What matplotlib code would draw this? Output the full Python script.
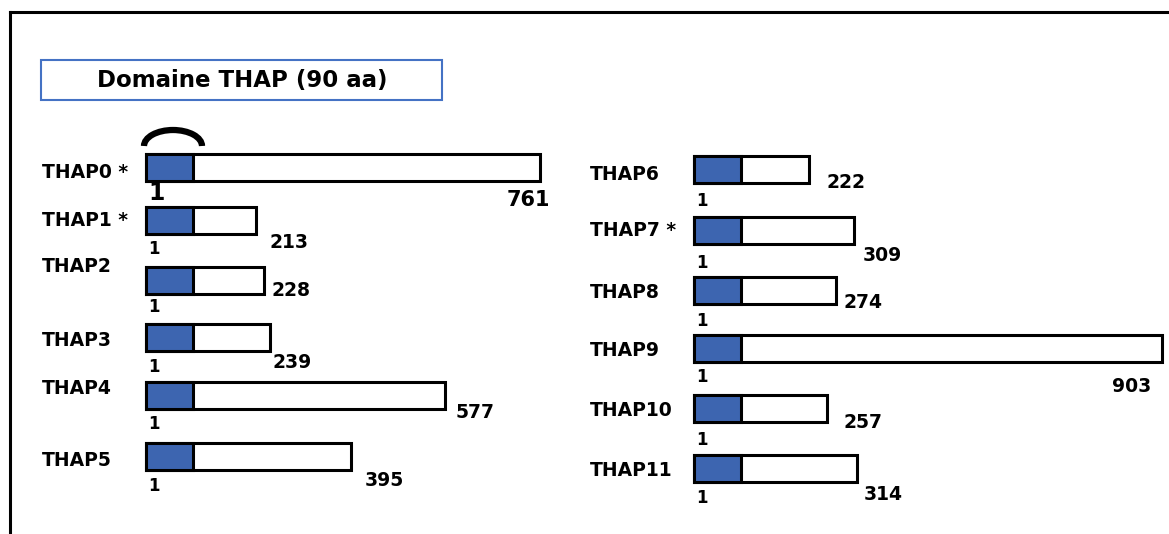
import matplotlib
matplotlib.use("Agg")
import matplotlib.pyplot as plt
from matplotlib.patches import Rectangle, Arc
from matplotlib.lines import Line2D

# ---------------- data ----------------
left_names = ["THAP0", "THAP1", "THAP2", "THAP3", "THAP4", "THAP5"]
left_lengths = [761, 213, 228, 239, 577, 395]
right_names = ["THAP6", "THAP7", "THAP8", "THAP9", "THAP10", "THAP11"]
right_lengths = [222, 309, 274, 903, 257, 314]
starred = ["THAP0", "THAP1", "THAP7"]
domain_len = 90
legend_text = "Domaine THAP (90 aa)"

# ---------------- layout (pixels) ----------------
W, H = 1169, 534
S = 0.518            # pixels per amino acid
BLUE = "#3D65B0"
BAR_H = 27
left_rows = [167, 220, 280, 337, 395, 456]          # bar centres
right_rows = [169.5, 230.5, 290.5, 348, 408, 468]
left_name_dy = [5, 0, -13, 4, -6, 4]
right_name_dy = [4.5, 0, 2.5, 3, 3, 2]
left_one_dy = [26, 29, 27, 30, 29, 30]
right_one_dy = [32, 33, 30, 29, 32, 30]
left_end_dx = [10, 13, 7, 3, 11, 14]
left_end_dy = [33, 23, 10, 25, 18, 25]
right_end_dx = [18, 9, 8, -11, 16, 7]
right_end_dy = [13, 25, 12, 38, 14, 26]

plt.rcParams["font.family"] = ["DejaVu Sans"]
plt.rcParams["font.weight"] = "bold"

fig = plt.figure(figsize=(W / 100, H / 100), dpi=100)


def make_axes(x0):
    ax = fig.add_axes([0, 0, 1, 1])
    ax.set_xlim(-x0 / S, (W - x0) / S)
    ax.set_ylim(H, 0)
    ax.axis("off")
    ax.patch.set_alpha(0)
    return ax


def draw_column(ax, names, lengths, rows, name_dy, one_dy, end_dx, end_dy,
                name_x_px, x0):
    px = 1 / S          # one pixel in x data units
    for i, (n, L) in enumerate(zip(names, lengths)):
        y = rows[i]
        big = (n == "THAP0")
        ax.barh(y, L, left=0, height=BAR_H, color="white", edgecolor="black",
                linewidth=2.2, zorder=2)
        ax.barh(y, domain_len, left=0, height=BAR_H, color=BLUE,
                edgecolor="black", linewidth=2.2, zorder=3)
        label = n + (" *" if n in starred else "")
        ax.text((name_x_px - x0) * px, y + name_dy[i], label, ha="left",
                va="center", fontsize=13.5, fontweight="bold")
        ax.text(2 * px, y + one_dy[i], "1", ha="left", va="center",
                fontsize=17 if big else 12, fontweight="bold")
        if L > 700:
            ax.text(L + end_dx[i] * px, y + end_dy[i], str(L), ha="right",
                    va="center", fontsize=15 if big else 13.5,
                    fontweight="bold")
        else:
            ax.text(L + end_dx[i] * px, y + end_dy[i], str(L), ha="left",
                    va="center", fontsize=13.5, fontweight="bold")


# left column
axl = make_axes(146)
draw_column(axl, left_names, left_lengths, left_rows, left_name_dy,
            left_one_dy, left_end_dx, left_end_dy, 42, 146)
# arc over THAP0 domain (y axis is inverted, so the upper half is 180..360)
axl.add_patch(Arc(((173 - 146) / S, 146), 58 / S, 32,
                  theta1=180, theta2=360, lw=4.5, color="black", zorder=4))

# right column
axr = make_axes(694)
draw_column(axr, right_names, right_lengths, right_rows, right_name_dy,
            right_one_dy, right_end_dx, right_end_dy, 590, 694)

# frame lines
fig.add_artist(Line2D([10 / W, 1], [1 - 12 / H, 1 - 12 / H], color="black",
                      lw=2.2, transform=fig.transFigure))
fig.add_artist(Line2D([10 / W, 10 / W], [0, 1 - 12 / H], color="black",
                      lw=2.2, transform=fig.transFigure))

# legend box
fig.add_artist(Rectangle((41 / W, 1 - 100 / H), 401 / W, 40 / H,
                         transform=fig.transFigure, facecolor="white",
                         edgecolor="#4472C4", lw=1.5))
fig.text(242 / W, 1 - 81 / H, legend_text, ha="center", va="center",
         fontsize=16.5, fontweight="bold")

fig.savefig("out.png", dpi=100, facecolor="white")
